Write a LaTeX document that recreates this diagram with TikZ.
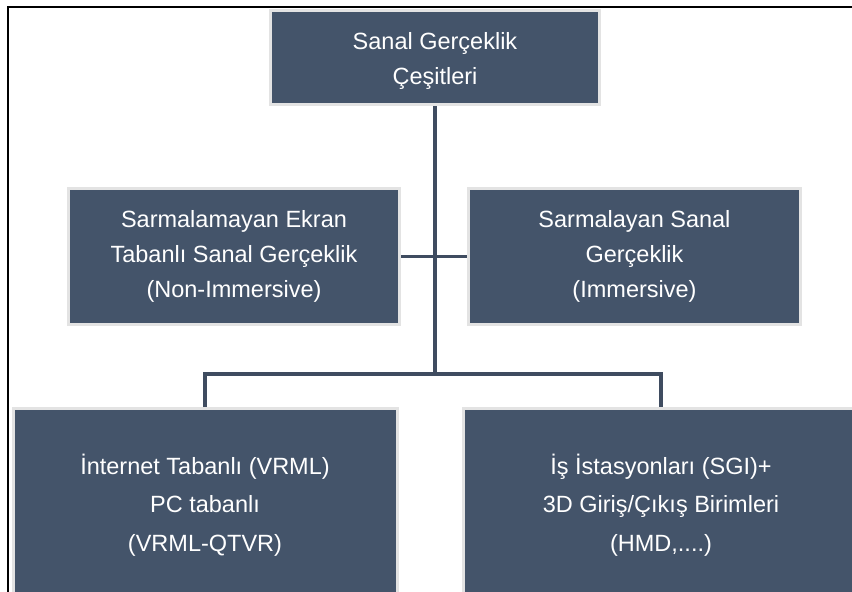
\documentclass[tikz,border=0pt]{standalone}
\usepackage{fontspec}
\setmainfont{Liberation Sans}
\definecolor{boxfill}{HTML}{44546A}
\definecolor{boxedge}{HTML}{E3E3E3}
\definecolor{linkcol}{HTML}{3F4C60}
\tikzset{
  vrbox/.style={rectangle, fill=boxfill, draw=boxedge, line width=3pt,
    text=white, align=center, inner sep=0pt,
    font=\fontsize{23.5}{35}\selectfont},
  vrboxlow/.style={vrbox, font=\fontsize{23.5}{38.5}\selectfont},
  link/.style={draw=linkcol, line width=3.5pt},
  frameline/.style={draw=black, line width=2pt}
}
\begin{document}
\begin{tikzpicture}[x=1pt,y=-1pt]
\useasboundingbox (0,0) rectangle (852,592);
\clip (0,0) rectangle (852,592);
\fill[white] (0,0) rectangle (852,592);
% frame
\coordinate (fa) at (8,592);
\coordinate (fb) at (8,7);
\coordinate (fc) at (853,7);
\draw[frameline] (fa) -- (fb) -- (fc);
% nodes
\node[vrbox, minimum width=329pt, minimum height=94pt] (top) at (435,57.5)
  {\rule{0pt}{24pt}Sanal Gerçeklik\\Çeşitleri};
\node[vrbox, minimum width=331pt, minimum height=136pt] (ml) at (234,256.5)
  {Sarmalamayan Ekran\\Tabanlı Sanal Gerçeklik\\(Non-Immersive)};
\node[vrbox, minimum width=332pt, minimum height=136pt] (mr) at (634.5,256.5)
  {Sarmalayan Sanal\\Gerçeklik\\(Immersive)};
\node[vrboxlow, minimum width=384pt, minimum height=193pt] (bl) at (205,505)
  {İnternet Tabanlı (VRML)\\PC tabanlı\\(VRML-QTVR)};
\node[vrboxlow, minimum width=395pt, minimum height=193pt] (br) at (661,505)
  {İş İstasyonları (SGI)+\\3D Giriş/Çıkış Birimleri\\(HMD,....)};
% connectors
\coordinate (split) at (435,374);
\draw[link] (top.south) -- (split);
\draw[link] (bl.north) |- (split) -| (br.north);
\draw[link] (ml.east) -- (mr.west);
\end{tikzpicture}
\end{document}
